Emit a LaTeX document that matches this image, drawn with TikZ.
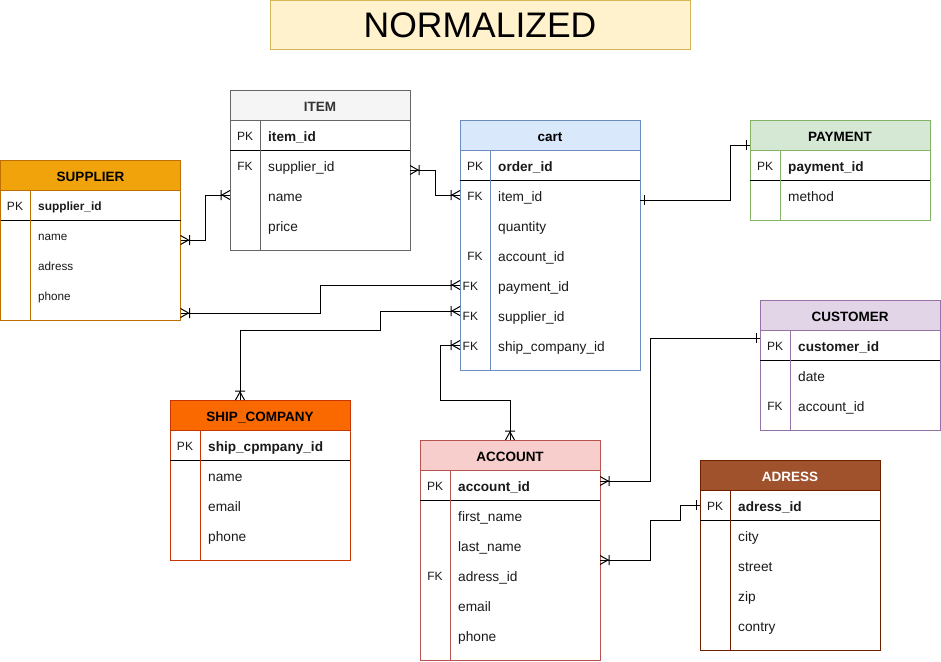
\documentclass[tikz,border=0pt]{standalone}
\usepackage{fontspec}
\setmainfont{Liberation Sans}
\usetikzlibrary{calc}

\definecolor{titlefill}{HTML}{FFF2CC}\definecolor{titlestroke}{HTML}{D6B656}
\definecolor{itemfill}{HTML}{F5F5F5}\definecolor{itemstroke}{HTML}{666666}\definecolor{itemtext}{HTML}{333333}
\definecolor{supfill}{HTML}{F0A30A}\definecolor{supstroke}{HTML}{BD7000}
\definecolor{cartfill}{HTML}{DAE8FC}\definecolor{cartstroke}{HTML}{6C8EBF}
\definecolor{payfill}{HTML}{D5E8D4}\definecolor{paystroke}{HTML}{82B366}
\definecolor{custfill}{HTML}{E1D5E7}\definecolor{custstroke}{HTML}{9673A6}
\definecolor{shipfill}{HTML}{FA6800}\definecolor{shipstroke}{HTML}{C73500}
\definecolor{accfill}{HTML}{F8CECC}\definecolor{accstroke}{HTML}{B85450}
\definecolor{adrfill}{HTML}{A0522D}\definecolor{adrstroke}{HTML}{6D1F00}
\definecolor{txtc}{HTML}{1A1A1A}

\pgfdeclarearrow{
  name=ERmany,
  setup code={
    \pgfarrowssettipend{0pt}
    \pgfarrowssetlineend{0pt}
    \pgfarrowssetbackend{-10pt}
    \pgfarrowsupperhullpoint{0pt}{5pt}
    \pgfarrowsupperhullpoint{-10pt}{5pt}
  },
  drawing code={
    \pgfsetdash{}{0pt}
    \pgfsetbeveljoin
    \pgfpathmoveto{\pgfqpoint{0pt}{4.5pt}}
    \pgfpathlineto{\pgfqpoint{-8pt}{0pt}}
    \pgfpathlineto{\pgfqpoint{0pt}{-4.5pt}}
    \pgfpathmoveto{\pgfqpoint{-9pt}{5pt}}
    \pgfpathlineto{\pgfqpoint{-9pt}{-5pt}}
    \pgfusepathqstroke
  }
}
\pgfdeclarearrow{
  name=ERone,
  setup code={
    \pgfarrowssettipend{0pt}
    \pgfarrowssetlineend{0pt}
    \pgfarrowssetbackend{-6pt}
    \pgfarrowsupperhullpoint{0pt}{5pt}
    \pgfarrowsupperhullpoint{-6pt}{5pt}
  },
  drawing code={
    \pgfsetdash{}{0pt}
    \pgfpathmoveto{\pgfqpoint{-4pt}{5pt}}
    \pgfpathlineto{\pgfqpoint{-4pt}{-5pt}}
    \pgfusepathqstroke
  }
}

\tikzset{
  tblbody/.style={draw, fill=white, line width=1pt, minimum width=180pt, inner sep=0pt, outer sep=0pt},
  tblhead/.style={line width=1pt, minimum width=180pt, minimum height=30pt, inner sep=0pt, outer sep=0pt,
    font=\bfseries\fontsize{13.5}{16}\selectfont, text height=12pt, text depth=0pt},
  sepline/.style={draw=black, line width=1pt},
  keyf/.style={inner sep=0pt, font=\fontsize{12}{14}\selectfont, text=txtc, text height=11pt, text depth=0pt},
  attr/.style={inner sep=0pt, font=\fontsize{13.7}{16}\selectfont, text=txtc, text height=12pt, text depth=0pt},
  pkattr/.style={attr, font=\bfseries\fontsize{13.6}{16}\selectfont},
  sattr/.style={attr, font=\fontsize{11.7}{14}\selectfont, text height=11pt},
  spk/.style={attr, font=\bfseries\fontsize{11.9}{14}\selectfont, text height=11pt},
  conn/.style={draw=black, line width=1pt},
  titlebox/.style={draw=titlestroke, fill=titlefill, line width=1pt, minimum width=420pt, minimum height=49.5pt,
    inner sep=0pt, outer sep=0pt, font=\fontsize{35.5}{40}\selectfont, text height=25pt, text depth=0pt}
}

% name, x, y, height, fill, stroke, title colour, title
\newcommand{\ertable}[8]{%
  \node[tblbody, draw=#6, minimum height=#4pt, anchor=north west] (#1) at (#2,#3) {};
  \node[tblhead, draw=#6, fill=#5, text=#7, anchor=north west] (#1-h) at (#2,#3) {#8};
  \draw[sepline] ([yshift=-60pt]#1.north west) -- ([yshift=-60pt]#1.north east);
  \draw[draw=#6, line width=1pt] ([xshift=30pt,yshift=-30pt]#1.north west) -- ([xshift=30pt]#1.south west);
}
% name, x0, y centre, key, text, key style, text style
\newcommand{\errow}[7]{%
  \node[#6, anchor=center] (#1-k) at (#2+15,#3) {#4};
  \node[#7, anchor=west] (#1-t) at (#2+38,#3) {#5};
}
% same, key set flush left
\newcommand{\errowL}[7]{%
  \node[#6, anchor=west] (#1-k) at (#2+2.5,#3) {#4};
  \node[#7, anchor=west] (#1-t) at (#2+38,#3) {#5};
}

\begin{document}
\begin{tikzpicture}[x=1pt, y=-1pt]
\useasboundingbox (0,0) rectangle (941,661);

\node[titlebox, anchor=north west] (title) at (270,0.5) {NORMALIZED};

% SUPPLIER
\ertable{sup}{0.5}{160}{160}{supfill}{supstroke}{black}{SUPPLIER}
\errow{sup1}{0}{205}{PK}{supplier\_id}{keyf}{spk}
\errow{sup2}{0}{235}{}{name}{keyf}{sattr}
\errow{sup3}{0}{265}{}{adress}{keyf}{sattr}
\errow{sup4}{0}{295}{}{phone}{keyf}{sattr}

% ITEM
\ertable{item}{230}{90}{160}{itemfill}{itemstroke}{itemtext}{ITEM}
\errow{item1}{230}{135}{PK}{item\_id}{keyf}{pkattr}
\errow{item2}{230}{165}{FK}{supplier\_id}{keyf}{attr}
\errow{item3}{230}{195}{}{name}{keyf}{attr}
\errow{item4}{230}{225}{}{price}{keyf}{attr}

% cart
\ertable{cart}{460}{120}{250}{cartfill}{cartstroke}{black}{cart}
\errow{cart1}{460}{165}{PK}{order\_id}{keyf}{pkattr}
\errow{cart2}{460}{195}{FK}{item\_id}{keyf}{attr}
\errow{cart3}{460}{225}{}{quantity}{keyf}{attr}
\errow{cart4}{460}{255}{FK}{account\_id}{keyf}{attr}
\errowL{cart5}{460}{285}{FK}{payment\_id}{keyf}{attr}
\errowL{cart6}{460}{315}{FK}{supplier\_id}{keyf}{attr}
\errowL{cart7}{460}{345}{FK}{ship\_company\_id}{keyf}{attr}

% PAYMENT
\ertable{pay}{750}{120}{100}{payfill}{paystroke}{black}{PAYMENT}
\errow{pay1}{750}{165}{PK}{payment\_id}{keyf}{pkattr}
\errow{pay2}{750}{195}{}{method}{keyf}{attr}

% CUSTOMER
\ertable{cust}{760}{300}{130}{custfill}{custstroke}{black}{CUSTOMER}
\errow{cust1}{760}{345}{PK}{customer\_id}{keyf}{pkattr}
\errow{cust2}{760}{375}{}{date}{keyf}{attr}
\errow{cust3}{760}{405}{FK}{account\_id}{keyf}{attr}

% SHIP_COMPANY
\ertable{ship}{170}{400}{160}{shipfill}{shipstroke}{black}{SHIP\_COMPANY}
\errow{ship1}{170}{445}{PK}{ship\_cpmpany\_id}{keyf}{pkattr}
\errow{ship2}{170}{475}{}{name}{keyf}{attr}
\errow{ship3}{170}{505}{}{email}{keyf}{attr}
\errow{ship4}{170}{535}{}{phone}{keyf}{attr}

% ACCOUNT
\ertable{acc}{420}{440}{220}{accfill}{accstroke}{black}{ACCOUNT}
\errow{acc1}{420}{485}{PK}{account\_id}{keyf}{pkattr}
\errow{acc2}{420}{515}{}{first\_name}{keyf}{attr}
\errow{acc3}{420}{545}{}{last\_name}{keyf}{attr}
\errow{acc4}{420}{575}{FK}{adress\_id}{keyf}{attr}
\errow{acc5}{420}{605}{}{email}{keyf}{attr}
\errow{acc6}{420}{635}{}{phone}{keyf}{attr}

% ADRESS
\ertable{adr}{700}{460}{190}{adrfill}{adrstroke}{white}{ADRESS}
\errow{adr1}{700}{505}{PK}{adress\_id}{keyf}{pkattr}
\errow{adr2}{700}{535}{}{city}{keyf}{attr}
\errow{adr3}{700}{565}{}{street}{keyf}{attr}
\errow{adr4}{700}{595}{}{zip}{keyf}{attr}
\errow{adr5}{700}{625}{}{contry}{keyf}{attr}

% connectors
\draw[conn, {ERmany}-{ERmany}] ([yshift=-80pt]sup.north east) -- ++(25,0) |- ([yshift=-105pt]item.north west);
\draw[conn, {ERmany}-{ERmany}] ([yshift=-80pt]item.north east) -- ++(25,0) |- ([yshift=-75pt]cart.north west);
\draw[conn, {ERone}-{ERone}] ([yshift=-80pt]cart.north east) -- ++(90,0) |- ([yshift=-25pt]pay.north west);
\draw[conn, {ERmany}-{ERmany}] ([yshift=-153pt]sup.north east) -- ++(140,0) |- ([yshift=-165pt]cart.north west);
\draw[conn, {ERmany}-{ERmany}] ([xshift=70pt]ship.north west) -- ++(0,-70) -- ++(140,0) |- ([yshift=-191pt]cart.north west);
\draw[conn, {ERmany}-{ERmany}] ([xshift=90pt]acc.north west) -- ++(0,-40) -- ++(-70,0) |- ([yshift=-225pt]cart.north west);
\draw[conn, {ERmany}-{ERone}] ([yshift=-41pt]acc.north east) -- ++(50,0) |- ([yshift=-38pt]cust.north west);
\draw[conn, {ERmany}-{ERone}] ([yshift=-120pt]acc.north east) -- ++(50,0) -- ++(0,-40) -- ++(30,0) |- ([yshift=-45pt]adr.north west);
\end{tikzpicture}
\end{document}
